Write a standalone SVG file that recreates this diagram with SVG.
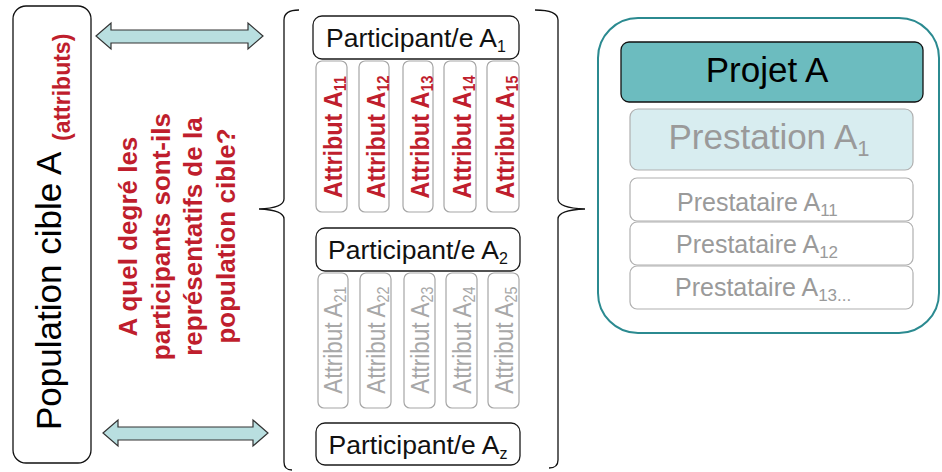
<svg xmlns="http://www.w3.org/2000/svg" width="942" height="472" viewBox="0 0 942 472">
  <style>
    text { font-family: "Liberation Sans", Arial, sans-serif; }
    .red { fill: #bf1e2d; font-weight: bold; }
    .part { fill: none; stroke: #1a1a1a; stroke-width: 1.3; }
    .part-t { font-size: 26.5px; fill: #111; text-anchor: middle; }
    .attr { fill: #fff; stroke: #a6a6a6; stroke-width: 1.2; }
    .attr1-t { font-size: 26px; text-anchor: middle; }
    .attr2-t { font-size: 25px; fill: #a8a8a8; text-anchor: middle; }
    .sub { font-size: 16px; }
    .sub16 { font-size: 16px; }
    .psub { font-size: 17px; }
    .brace { fill: none; stroke: #111; stroke-width: 1.3; }
    .dbl { fill: #b9dfe0; stroke: #333; stroke-width: 1.2; stroke-linejoin: miter; }
    .gbox { fill: #fff; stroke: #b0b0b0; stroke-width: 1.2; }
    .gtext { fill: #9a9a9a; }
  </style>

  <!-- target population -->
  <g id="population">
    <rect x="13" y="6" width="78" height="457" rx="13" fill="#fff" stroke="#111" stroke-width="1.3"/>
    <text transform="rotate(-90)" x="-430" y="61" font-size="35" fill="#000">Population cible A</text>
    <text class="red" transform="rotate(-90)" x="-141" y="70" font-size="23">(attributs)</text>
  </g>

  <!-- question -->
  <g id="question">
    <text class="red" transform="rotate(-90)" font-size="26" text-anchor="middle">
      <tspan x="-233" y="137">A quel degré les</tspan>
      <tspan x="-233" y="170">participants sont-ils</tspan>
      <tspan x="-233" y="202">représentatifs de la</tspan>
      <tspan x="-236" y="235">population cible?</tspan>
    </text>
  </g>

  <!-- connectors -->
  <g id="connectors">
    <polygon class="dbl" points="96,36 111,23 111,30 248,30 248,23 263,36 248,49 248,43 111,43 111,49"/>
    <polygon class="dbl" points="103,433 118,420 118,427 253,427 253,420 268,433 253,446 253,440 118,440 118,446"/>
    <path class="brace" d="M299,10 Q284,10 284,20 L284,199 Q284,208 259,209 Q284,210 284,219 L284,462 Q284,470 292,470"/>
    <path class="brace" d="M535,10 Q558,10 558,20 L558,199 Q558,208 585,209 Q558,210 558,219 L558,460 Q558,468 549,468"/>
  </g>

  <!-- participant 1 -->
  <g id="participant-a1">
    <rect class="part" x="313" y="16" width="206" height="43" rx="9"/>
    <text class="part-t" x="416" y="47">Participant/e A<tspan class="sub16" baseline-shift="-5">1</tspan></text>
  </g>
  <g id="attributs-a1">
    <rect class="attr" x="316" y="61" width="31" height="151" rx="6"/>
    <rect class="attr" x="359" y="61" width="30" height="151" rx="6"/>
    <rect class="attr" x="403" y="61" width="30" height="151" rx="6"/>
    <rect class="attr" x="444" y="61" width="32" height="151" rx="6"/>
    <rect class="attr" x="487" y="61" width="32" height="151" rx="6"/>
    <g class="red">
      <text class="attr1-t" transform="translate(342,137) rotate(-90) scale(0.9,1)">Attribut A<tspan class="sub" baseline-shift="-4">11</tspan></text>
      <text class="attr1-t" transform="translate(385,137) rotate(-90) scale(0.9,1)">Attribut A<tspan class="sub" baseline-shift="-4">12</tspan></text>
      <text class="attr1-t" transform="translate(429,137) rotate(-90) scale(0.9,1)">Attribut A<tspan class="sub" baseline-shift="-4">13</tspan></text>
      <text class="attr1-t" transform="translate(471,137) rotate(-90) scale(0.9,1)">Attribut A<tspan class="sub" baseline-shift="-4">14</tspan></text>
      <text class="attr1-t" transform="translate(514,137) rotate(-90) scale(0.9,1)">Attribut A<tspan class="sub" baseline-shift="-4">15</tspan></text>
    </g>
  </g>

  <!-- participant 2 -->
  <g id="participant-a2">
    <rect class="part" x="316" y="228" width="204" height="43" rx="9"/>
    <text class="part-t" x="418" y="259">Participant/e A<tspan class="sub16" baseline-shift="-5">2</tspan></text>
  </g>
  <g id="attributs-a2">
    <rect class="attr" x="318" y="273" width="30" height="135" rx="6"/>
    <rect class="attr" x="360" y="273" width="31" height="135" rx="6"/>
    <rect class="attr" x="404" y="273" width="31" height="135" rx="6"/>
    <rect class="attr" x="446" y="273" width="31" height="135" rx="6"/>
    <rect class="attr" x="488" y="273" width="31" height="135" rx="6"/>
    <text class="attr2-t" transform="translate(342,340) rotate(-90) scale(0.9,1)">Attribut A<tspan class="sub" baseline-shift="-4">21</tspan></text>
    <text class="attr2-t" transform="translate(385,340) rotate(-90) scale(0.9,1)">Attribut A<tspan class="sub" baseline-shift="-4">22</tspan></text>
    <text class="attr2-t" transform="translate(429,340) rotate(-90) scale(0.9,1)">Attribut A<tspan class="sub" baseline-shift="-4">23</tspan></text>
    <text class="attr2-t" transform="translate(471,340) rotate(-90) scale(0.9,1)">Attribut A<tspan class="sub" baseline-shift="-4">24</tspan></text>
    <text class="attr2-t" transform="translate(513,340) rotate(-90) scale(0.9,1)">Attribut A<tspan class="sub" baseline-shift="-4">25</tspan></text>
  </g>

  <!-- participant z -->
  <g id="participant-az">
    <rect class="part" x="316" y="423" width="204" height="42" rx="9"/>
    <text class="part-t" x="418" y="454">Participant/e A<tspan class="sub16" baseline-shift="-5">z</tspan></text>
  </g>

  <!-- project A -->
  <g id="projet-a">
    <rect x="598" y="18" width="341" height="315" rx="40" fill="#fff" stroke="#2b8a90" stroke-width="2"/>
    <rect x="621" y="42" width="302" height="60" rx="8" fill="#6cbcbf" stroke="#111" stroke-width="1.3"/>
    <text x="767" y="82" font-size="35" fill="#000" text-anchor="middle">Projet A</text>
  </g>
  <g id="prestation-a1">
    <rect x="630" y="109" width="283" height="61" rx="8" fill="#d8edf0" stroke="#b0b0b0" stroke-width="1.2"/>
    <text class="gtext" x="769" y="149" font-size="35" text-anchor="middle">Prestation A<tspan font-size="22" baseline-shift="-7">1</tspan></text>
  </g>
  <g id="prestataire-a11">
    <rect class="gbox" x="630" y="178" width="283" height="43" rx="7"/>
    <text class="gtext" x="677" y="211" font-size="25">Prestataire A<tspan class="psub" baseline-shift="-5">11</tspan></text>
  </g>
  <g id="prestataire-a12">
    <rect class="gbox" x="630" y="222" width="283" height="43" rx="7"/>
    <text class="gtext" x="676" y="253" font-size="25">Prestataire A<tspan class="psub" baseline-shift="-5">12</tspan></text>
  </g>
  <g id="prestataire-a13">
    <rect class="gbox" x="630" y="266" width="283" height="43" rx="7"/>
    <text class="gtext" x="675" y="296" font-size="25">Prestataire A<tspan class="psub" baseline-shift="-5">13...</tspan></text>
  </g>
</svg>
